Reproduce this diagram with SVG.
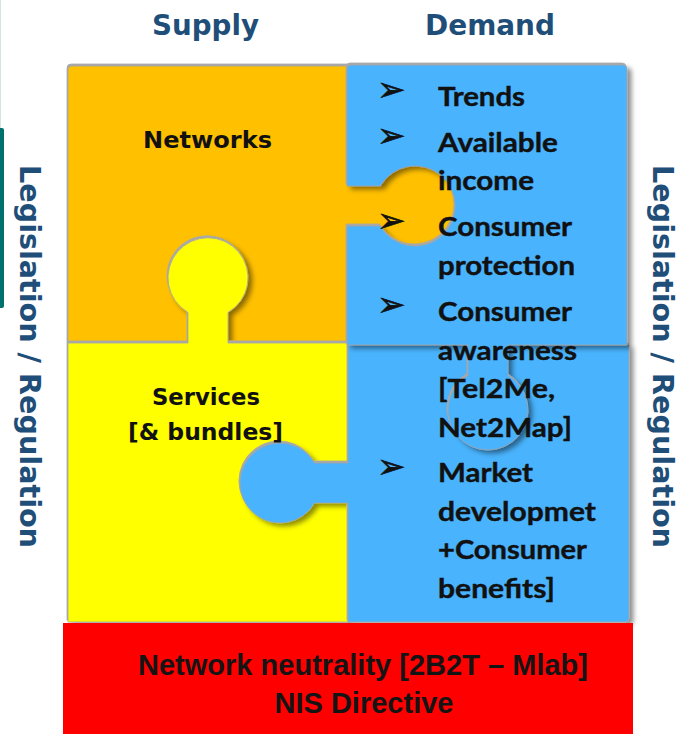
<svg xmlns="http://www.w3.org/2000/svg" width="681" height="734" viewBox="0 0 681 734">
  <style>
    .head { font-family: "DejaVu Sans", Verdana, sans-serif; font-weight: bold; fill: #1f4e79; font-size: 28px; }
    .side { font-family: "DejaVu Sans", Verdana, sans-serif; font-weight: bold; fill: #1f4e79; font-size: 29px; }
    .label { font-family: "DejaVu Sans", Verdana, sans-serif; font-weight: bold; fill: #111; font-size: 23px; }
    .item { font-family: Lato, "Open Sans", sans-serif; font-weight: bold; fill: #111; stroke: #111; stroke-width: 0.4; font-size: 27px; }
    .bullet { font-family: "DejaVu Sans", sans-serif; fill: #111; stroke: #111; stroke-width: 0.6; font-size: 34px; }
    .foot { font-family: "Liberation Sans", Arial, sans-serif; font-weight: bold; fill: #141414; font-size: 29px; text-anchor: middle; }
    .piece { stroke: #a4a4a4; stroke-width: 0.8; filter: url(#bevel); }
  </style>
  <defs>
    <!-- soft drop shadow to the lower right plus a thin grey rim to the upper left -->
    <filter id="bevel" x="-10%" y="-10%" width="125%" height="125%">
      <feGaussianBlur in="SourceAlpha" stdDeviation="2.5" result="blur"/>
      <feOffset in="blur" dx="4" dy="3" result="off"/>
      <feFlood flood-color="#000" flood-opacity="0.45"/>
      <feComposite in2="off" operator="in" result="shadow"/>
      <feOffset in="SourceAlpha" dx="-1.4" dy="-2" result="rimOff"/>
      <feFlood flood-color="#a8a8a8"/>
      <feComposite in2="rimOff" operator="in" result="rim"/>
      <feMerge>
        <feMergeNode in="shadow"/>
        <feMergeNode in="rim"/>
        <feMergeNode in="SourceGraphic"/>
      </feMerge>
    </filter>
  </defs>

  <rect width="681" height="734" fill="#fff"/>

  <!-- left page decorations -->
  <line x1="0.5" y1="0" x2="0.5" y2="128" stroke="#d3e4e2" stroke-width="1"/>
  <path d="M0,128 H2 A2 2 0 0 1 4 130 V306 A2 2 0 0 1 2 308 H0 Z" fill="#00706c"/>

  <!-- column headings -->
  <text class="head" x="152" y="35" textLength="107" lengthAdjust="spacingAndGlyphs">Supply</text>
  <text class="head" x="425" y="35" textLength="130" lengthAdjust="spacingAndGlyphs">Demand</text>

  <!-- side labels -->
  <text class="side" transform="translate(20,356.5) rotate(90)" text-anchor="middle" textLength="383" lengthAdjust="spacingAndGlyphs">Legislation / Regulation</text>
  <text class="side" transform="translate(653,356.5) rotate(90)" text-anchor="middle" textLength="383" lengthAdjust="spacingAndGlyphs">Legislation / Regulation</text>

  <!-- puzzle pieces -->
  <g id="networks">
    <path class="piece" fill="#ffc000" d="M72,66 H348 V186 H380.4 A40 40 0 1 1 380.4 226 H348 V343 H68 V70 A4 4 0 0 1 72 66 Z"/>
  </g>
  <g id="services">
    <path class="piece" fill="#ffff00" d="M68,343 H188 V312.4 A40 40 0 1 1 228 312.4 V343 H348 V622 H68 Z"/>
  </g>
  <g id="demand-lower">
    <path class="piece" fill="#4ab3fd" d="M348,345 H629 V618 A4 4 0 0 1 625 622 H348 V503 H314.6 A40 40 0 1 1 314.6 463 H348 Z"/>
  </g>
  <g id="demand-upper">
    <path class="piece" fill="#4ab3fd" d="M351,65 H623 A4 4 0 0 1 627 69 V345 H508 V375.4 A40 40 0 1 1 468 375.4 V345 H347 V226 H380.4 A40 40 0 1 0 380.4 186 H347 V69 A4 4 0 0 1 351 65 Z"/>
  </g>

  <!-- piece labels -->
  <text class="label" x="143" y="148" textLength="129" lengthAdjust="spacingAndGlyphs">Networks</text>
  <text class="label" x="152" y="405" textLength="108" lengthAdjust="spacingAndGlyphs">Services</text>
  <text class="label" x="128" y="440" textLength="155" lengthAdjust="spacingAndGlyphs">[&amp; bundles]</text>

  <!-- demand factors -->
  <g id="demand-list">
    <text class="bullet" x="377" y="101">➢</text>
    <text class="bullet" x="377" y="147">➢</text>
    <text class="bullet" x="377" y="232">➢</text>
    <text class="bullet" x="377" y="316">➢</text>
    <text class="bullet" x="377" y="478">➢</text>
    <text class="item" x="438" y="106" textLength="87" lengthAdjust="spacingAndGlyphs">Trends</text>
    <text class="item" x="438" y="151.5" textLength="120" lengthAdjust="spacingAndGlyphs">Available</text>
    <text class="item" x="438" y="190" textLength="96" lengthAdjust="spacingAndGlyphs">income</text>
    <text class="item" x="438" y="236" textLength="134" lengthAdjust="spacingAndGlyphs">Consumer</text>
    <text class="item" x="438" y="274.5" textLength="137" lengthAdjust="spacingAndGlyphs">protection</text>
    <text class="item" x="438" y="321" textLength="134" lengthAdjust="spacingAndGlyphs">Consumer</text>
    <text class="item" x="438" y="359.5" textLength="139" lengthAdjust="spacingAndGlyphs">awareness</text>
    <text class="item" x="438" y="398" textLength="117" lengthAdjust="spacingAndGlyphs">[Tel2Me,</text>
    <text class="item" x="438" y="436.5" textLength="134" lengthAdjust="spacingAndGlyphs">Net2Map]</text>
    <text class="item" x="438" y="482" textLength="95" lengthAdjust="spacingAndGlyphs">Market</text>
    <text class="item" x="438" y="520.5" textLength="158" lengthAdjust="spacingAndGlyphs">developmet</text>
    <text class="item" x="438" y="559" textLength="149" lengthAdjust="spacingAndGlyphs">+Consumer</text>
    <text class="item" x="438" y="597.5" textLength="117" lengthAdjust="spacingAndGlyphs">benefits]</text>
  </g>

  <!-- regulatory base -->
  <g id="regulation">
    <rect x="63" y="623" width="570" height="111" fill="#ff0000"/>
    <text class="foot" x="363" y="675" textLength="450" lengthAdjust="spacingAndGlyphs">Network neutrality [2B2T – Mlab]</text>
    <text class="foot" x="364" y="713">NIS Directive</text>
  </g>
</svg>
